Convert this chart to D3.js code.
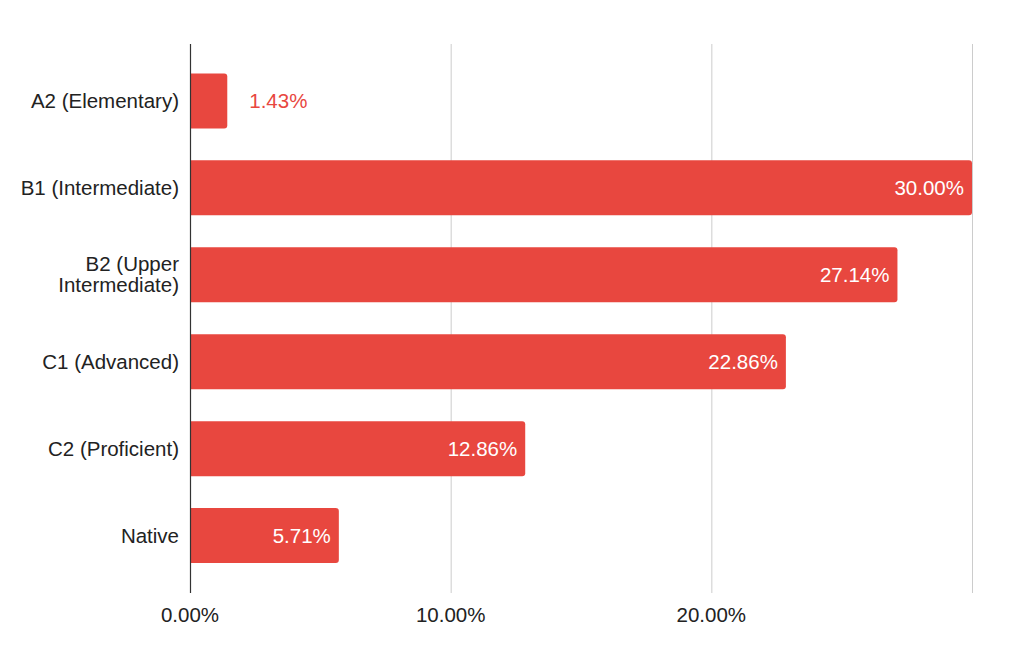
<!DOCTYPE html>
<html>
<head>
<style>
  body { margin: 0; background: #fff; }
  text { font-family: "Liberation Sans", Arial, Helvetica, sans-serif; }
</style>
</head>
<body>
<script src="https://d3js.org/d3.v7.min.js"></script>
<script>
var categories = ["A2 (Elementary)", "B1 (Intermediate)", "B2 (Upper Intermediate)", "C1 (Advanced)", "C2 (Proficient)", "Native"];
var values = [1.43, 30.00, 27.14, 22.86, 12.86, 5.71];
var tickValues = [0, 10, 20, 30];
var tickLabels = ["0.00%", "10.00%", "20.00%", ""];

var w = 1036, h = 666,
    color = "#e8473f",
    fs = "20.5px";

var svg = d3.select("body").append("svg")
    .attr("width", w)
    .attr("height", h);

var x = d3.scaleLinear().domain([0, 30]).range([190, 972]);
var y = d3.scaleBand().domain(categories).range([57.5, 579]).paddingInner(0.367).paddingOuter(0.183);

// grid lines
svg.selectAll("line.grid")
    .data(tickValues.slice(1))
  .enter().append("line")
    .attr("class", "grid")
    .attr("x1", function(d) { return x(d) + 0.5; })
    .attr("x2", function(d) { return x(d) + 0.5; })
    .attr("y1", 44)
    .attr("y2", 593)
    .style("stroke", "#cccccc")
    .style("stroke-width", 1);

// tick labels
svg.selectAll("text.tick")
    .data(tickValues)
  .enter().append("text")
    .attr("class", "tick")
    .attr("x", function(d) { return x(d); })
    .attr("y", 622)
    .attr("text-anchor", "middle")
    .style("font-size", fs)
    .style("fill", "#222")
    .text(function(d, i) { return tickLabels[i]; });

// bars with a slight round on the right end
function barPath(d, i) {
  var x0 = x(0) + 1, x1 = x(d), y0 = y(categories[i]), bh = y.bandwidth(), r = 3;
  return "M" + x0 + "," + y0 + "H" + (x1 - r) + "Q" + x1 + "," + y0 + " " + x1 + "," + (y0 + r) +
    "V" + (y0 + bh - r) + "Q" + x1 + "," + (y0 + bh) + " " + (x1 - r) + "," + (y0 + bh) + "H" + x0 + "Z";
}
svg.selectAll("path.bar")
    .data(values)
  .enter().append("path")
    .attr("class", "bar")
    .attr("d", barPath)
    .style("fill", color);

// value labels
svg.selectAll("text.val")
    .data(values)
  .enter().append("text")
    .attr("class", "val")
    .attr("x", function(d) { return d < 3 ? x(d) + 22 : x(d) - 8; })
    .attr("y", function(d, i) { return y(categories[i]) + y.bandwidth() / 2; })
    .attr("dy", "0.35em")
    .attr("text-anchor", function(d) { return d < 3 ? "start" : "end"; })
    .style("font-size", fs)
    .style("fill", function(d) { return d < 3 ? color : "#fff"; })
    .text(function(d) { return d.toFixed(2) + "%"; });

// category labels (wrap B2)
svg.selectAll("text.cat")
    .data(categories)
  .enter().append("text")
    .attr("class", "cat")
    .attr("text-anchor", "end")
    .style("font-size", fs)
    .style("fill", "#222")
    .each(function(d) {
      var t = d3.select(this), cy = y(d) + y.bandwidth() / 2;
      var lines = d.length > 20 ? ["B2 (Upper", "Intermediate)"] : [d];
      lines.forEach(function(l, k) {
        t.append("tspan")
          .attr("x", 179)
          .attr("y", cy + (k - (lines.length - 1) / 2) * 21)
          .attr("dy", "0.35em")
          .text(l);
      });
    });

// zero axis line
svg.append("line")
    .attr("x1", x(0) + 0.5).attr("x2", x(0) + 0.5)
    .attr("y1", 44).attr("y2", 593)
    .style("stroke", "#333")
    .style("stroke-width", 1.2);
</script>
</body>
</html>
